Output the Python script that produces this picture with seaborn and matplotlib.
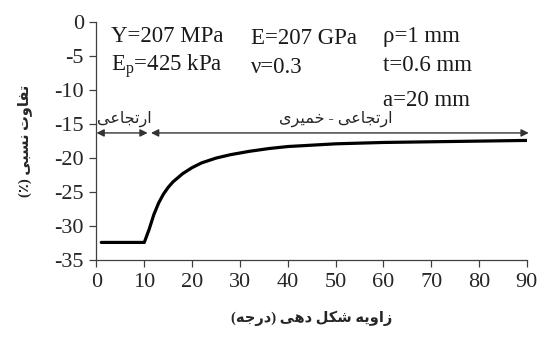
import matplotlib
matplotlib.use("Agg")
import matplotlib.pyplot as plt
import seaborn as sns
import pandas as pd

# ---- data ----
angle = [1, 10, 11, 12, 13, 14, 15, 16, 18, 20, 22, 25, 28, 32, 36, 40, 45, 50, 60, 70, 80, 90]
rel_diff = [-32.4, -32.4, -30.5, -28.3, -26.6, -25.3, -24.3, -23.5, -22.3, -21.4, -20.7, -20.0,
            -19.5, -19.0, -18.6, -18.3, -18.1, -17.9, -17.7, -17.6, -17.5, -17.4]
x_ticks = [0, 10, 20, 30, 40, 50, 60, 70, 80, 90]
y_ticks = [0, -5, -10, -15, -20, -25, -30, -35]
params = [["Y=207 MPa", "E$_\\mathregular{p}$=425 kPa"],
          ["E=207 GPa", "ν=0.3"],
          ["ρ=1 mm", "t=0.6 mm", "a=20 mm"]]
xlabel_txt = "زاویه شکل دهی (درجه)"
ylabel_txt = "تفاوت نسبی (٪)"
elastic_txt = "ارتجاعی"
plastic_txt = "ارتجاعی - خمیری"
region_bounds = [0, 10.7, 11.4, 90.4]

# ---- simple Persian shaping (presentation forms, visual order) ----
FORMS = {  # iso, fin, ini, med
    '\u0627': ('\uFE8D', '\uFE8E', None, None),
    '\u0628': ('\uFE8F', '\uFE90', '\uFE91', '\uFE92'),
    '\u062A': ('\uFE95', '\uFE96', '\uFE97', '\uFE98'),
    '\u062C': ('\uFE9D', '\uFE9E', '\uFE9F', '\uFEA0'),
    '\u062E': ('\uFEA5', '\uFEA6', '\uFEA7', '\uFEA8'),
    '\u062F': ('\uFEA9', '\uFEAA', None, None),
    '\u0631': ('\uFEAD', '\uFEAE', None, None),
    '\u0632': ('\uFEAF', '\uFEB0', None, None),
    '\u0633': ('\uFEB1', '\uFEB2', '\uFEB3', '\uFEB4'),
    '\u0634': ('\uFEB5', '\uFEB6', '\uFEB7', '\uFEB8'),
    '\u0639': ('\uFEC9', '\uFECA', '\uFECB', '\uFECC'),
    '\u0641': ('\uFED1', '\uFED2', '\uFED3', '\uFED4'),
    '\u0644': ('\uFEDD', '\uFEDE', '\uFEDF', '\uFEE0'),
    '\u0645': ('\uFEE1', '\uFEE2', '\uFEE3', '\uFEE4'),
    '\u0646': ('\uFEE5', '\uFEE6', '\uFEE7', '\uFEE8'),
    '\u0647': ('\uFEE9', '\uFEEA', '\uFEEB', '\uFEEC'),
    '\u0648': ('\uFEED', '\uFEEE', None, None),
    '\u06CC': ('\uFBFC', '\uFBFD', '\uFBFE', '\uFBFF'),
    '\u06A9': ('\uFB8E', '\uFB8F', '\uFB90', '\uFB91'),
}


def shape(s):
    out = []
    n = len(s)
    for i, c in enumerate(s):
        if c not in FORMS:
            out.append(c)
            continue
        f = FORMS[c]
        prev = s[i - 1] if i > 0 else ''
        nxt = s[i + 1] if i < n - 1 else ''
        jp = prev in FORMS and FORMS[prev][2] is not None
        jn = f[2] is not None and nxt in FORMS
        if jp and jn:
            out.append(f[3])
        elif jp:
            out.append(f[1])
        elif jn:
            out.append(f[2])
        else:
            out.append(f[0])
    vis = ''.join(reversed(out))
    return vis.translate(str.maketrans('()', ')('))


sns.set_style("ticks")
plt.rcParams['font.family'] = ['Liberation Serif', 'DejaVu Sans']
plt.rcParams['mathtext.fontset'] = 'custom'
plt.rcParams['mathtext.rm'] = 'Liberation Serif'

fig = plt.figure(figsize=(5.42, 3.4), dpi=100)
ax = fig.add_axes([0.178, 0.235, 0.794, 0.70])

df = pd.DataFrame({"angle": angle, "rel": rel_diff})
sns.lineplot(data=df, x="angle", y="rel", ax=ax, color="black", lw=2.3, sort=False)

ax.set_xlim(0, 90)
ax.set_ylim(-35, 0)
ax.set_xticks(x_ticks)
ax.set_yticks(y_ticks)
ax.set_xticklabels([str(v) for v in x_ticks])
ax.set_yticklabels([str(v) for v in y_ticks])
ax.tick_params(axis='both', labelsize=16, length=5, width=0.9, color='#404040',
               direction='out', pad=4)
for sp in ['top', 'right']:
    ax.spines[sp].set_visible(False)
for sp in ['left', 'bottom']:
    ax.spines[sp].set_color('#404040')
    ax.spines[sp].set_linewidth(0.9)

ax.set_xlabel(shape(xlabel_txt), family=['Liberation Serif', 'DejaVu Sans'],
              fontsize=10.5, fontweight='bold', labelpad=14)
ax.set_ylabel(shape(ylabel_txt), family=['Liberation Serif', 'DejaVu Sans'],
              fontsize=10.5, fontweight='bold', labelpad=16)

# parameter annotations
col_x = [3.0, 32.4, 60.0]
row_y = [[-2.9, -7.2], [-3.2, -7.5], [-2.9, -7.2, -12.4]]
for cx, texts, ys in zip(col_x, params, row_y):
    for t, yy in zip(texts, ys):
        ax.text(cx, yy, t, fontsize=16.5, va='baseline', ha='left', color='#1a1a1a')

# region arrows
arr_y = -16.3
akw = dict(arrowstyle='<|-|>', color='#333333', lw=1.0, mutation_scale=11,
           shrinkA=0, shrinkB=0)
ax.annotate('', xy=(region_bounds[0], arr_y), xytext=(region_bounds[1], arr_y),
            arrowprops=akw, annotation_clip=False)
ax.annotate('', xy=(region_bounds[2], arr_y), xytext=(region_bounds[3], arr_y),
            arrowprops=akw, annotation_clip=False)
ax.text(5.9, -14.3, shape(elastic_txt), fontsize=11.5, ha='center', va='center',
        family=['Liberation Serif', 'DejaVu Sans'])
ax.text(50.1, -14.3, shape(plastic_txt), fontsize=11.5, ha='center', va='center',
        family=['Liberation Serif', 'DejaVu Sans'])

fig.savefig("out.png", dpi=100)
